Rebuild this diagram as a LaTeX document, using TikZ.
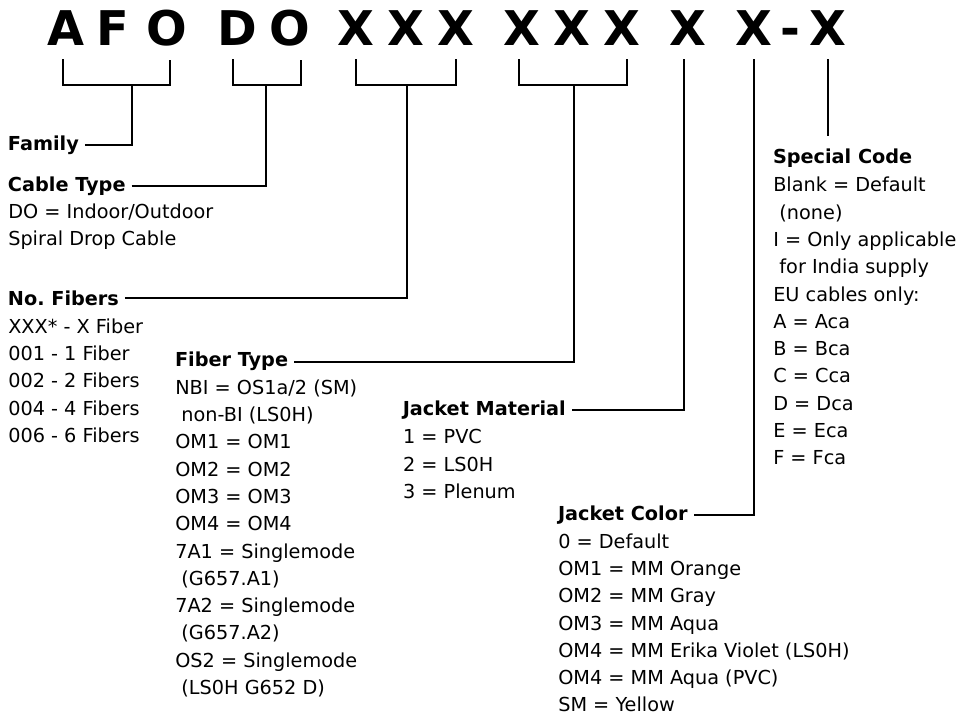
\documentclass[tikz,border=0pt]{standalone}
\usepackage{fontspec}
\setmainfont{DejaVu Sans}
\frenchspacing

\begin{document}
\begin{tikzpicture}[
    code/.style={font=\fontsize{34}{40}\selectfont\bfseries, inner sep=0pt, anchor=base},
    head/.style={font=\fontsize{13.7}{19.4}\selectfont\bfseries, inner sep=0pt,
                 outer xsep=0.15cm, anchor=base west},
    info/.style={font=\fontsize{13.7}{19.4}\selectfont, inner sep=0pt, align=left,
                 anchor=north west},
    link/.style={line width=1.4pt},
]

    \useasboundingbox (0,0) rectangle (24.325,-17.95);

    \node[code] (a1) at (1.66, -1.125) {A};
    \node[code] (f1) at (2.81, -1.125) {F};
    \node[code] (o1) at (4.175, -1.125) {O};
    \node[code] (d1) at (5.94, -1.125) {D};
    \node[code] (o2) at (7.25, -1.125) {O};
    \node[code] (x1) at (8.89, -1.125) {X};
    \node[code] (x2) at (10.14, -1.125) {X};
    \node[code] (x3) at (11.39, -1.125) {X};
    \node[code] (x4) at (13.06, -1.125) {X};
    \node[code] (x5) at (14.31, -1.125) {X};
    \node[code] (x6) at (15.56, -1.125) {X};
    \node[code] (x7) at (17.21, -1.125) {X};
    \node[code] (x8) at (18.84, -1.125) {X};
    \node[code] (dash) at (19.76, -1.125) {-};
    \node[code] (x9) at (20.71, -1.125) {X};

    \node[head] (fam) at (0.05, -3.75) {Family};
    \node[head] (cab) at (0.05, -4.775) {Cable Type};
    \node[info] (cabinfo) at (0.2, -5.083) {DO = Indoor/Outdoor\\Spiral Drop Cable};
    \node[head] (fib) at (0.05, -7.64) {No. Fibers};
    \node[info] (fibinfo) at (0.2, -7.958) {XXX* - X Fiber\\001 - 1 Fiber\\002 - 2 Fibers\\004 - 4 Fibers\\006 - 6 Fibers};
    \node[head] (typ) at (4.225, -9.17) {Fiber Type};
    \node[info] (typinfo) at (4.375, -9.488) {NBI = OS1a/2 (SM)\\\hspace*{.32em}non-BI (LS0H)\\OM1 = OM1\\OM2 = OM2\\OM3 = OM3\\OM4 = OM4\\7A1 = Singlemode\\\hspace*{.32em}(G657.A1)\\7A2 = Singlemode\\\hspace*{.32em}(G657.A2)\\OS2 = Singlemode\\\hspace*{.32em}(LS0H G652 D)};
    \node[head] (mat) at (9.92, -10.375) {Jacket Material};
    \node[info] (matinfo) at (10.07, -10.73) {1 = PVC\\2 = LS0H\\3 = Plenum};
    \node[head] (col) at (13.8, -13.0) {Jacket Color};
    \node[info] (colinfo) at (13.95, -13.333) {0 = Default\\OM1 = MM Orange\\OM2 = MM Gray\\OM3 = MM Aqua\\OM4 = MM Erika Violet (LS0H)\\OM4 = MM Aqua (PVC)\\SM = Yellow};
    \node[head] (spec) at (19.175, -4.08) {Special Code};
    \node[info] (specinfo) at (19.325, -4.425) {Blank = Default\\\hspace*{.32em}(none)\\I = Only applicable\\\hspace*{.32em}for India supply\\EU cables only:\\A = Aca\\B = Bca\\C = Cca\\D = Dca\\E = Eca\\F = Fca};

    \coordinate (famjoin) at (3.3, -2.125);
    \coordinate (cabjoin) at (6.65, -2.125);
    \coordinate (fibjoin) at (10.175, -2.125);
    \coordinate (typjoin) at (14.35, -2.125);

    \draw[link] ([xshift=-0.09cm, yshift=-0.35cm]a1.south) -- ++(0,-0.65) -| ([xshift=0.075cm, yshift=-0.35cm]o1.south);
    \draw[link] ([xshift=-0.115cm, yshift=-0.35cm]d1.south) -- ++(0,-0.65) -| ([xshift=0.275cm, yshift=-0.35cm]o2.south);
    \draw[link] ([yshift=-0.35cm]x1.south) -- ++(0,-0.65) -| ([yshift=-0.35cm]x3.south);
    \draw[link] ([xshift=-0.085cm, yshift=-0.35cm]x4.south) -- ++(0,-0.65) -| ([xshift=0.115cm, yshift=-0.35cm]x6.south);

    \draw[link] (fam.east) -| (famjoin);
    \draw[link] (cab.east) -| (cabjoin);
    \draw[link] (fib.east) -| (fibjoin);
    \draw[link] (typ.east) -| (typjoin);
    \draw[link] ([xshift=-0.1cm, yshift=-0.35cm]x7.south) |- (mat.east);
    \draw[link] ([yshift=-0.35cm]x8.south) |- (col.east);
    \draw[link] ([yshift=-0.35cm]x9.south) -- ([yshift=0.3cm]x9.south |- spec.north);
\end{tikzpicture}
\end{document}
